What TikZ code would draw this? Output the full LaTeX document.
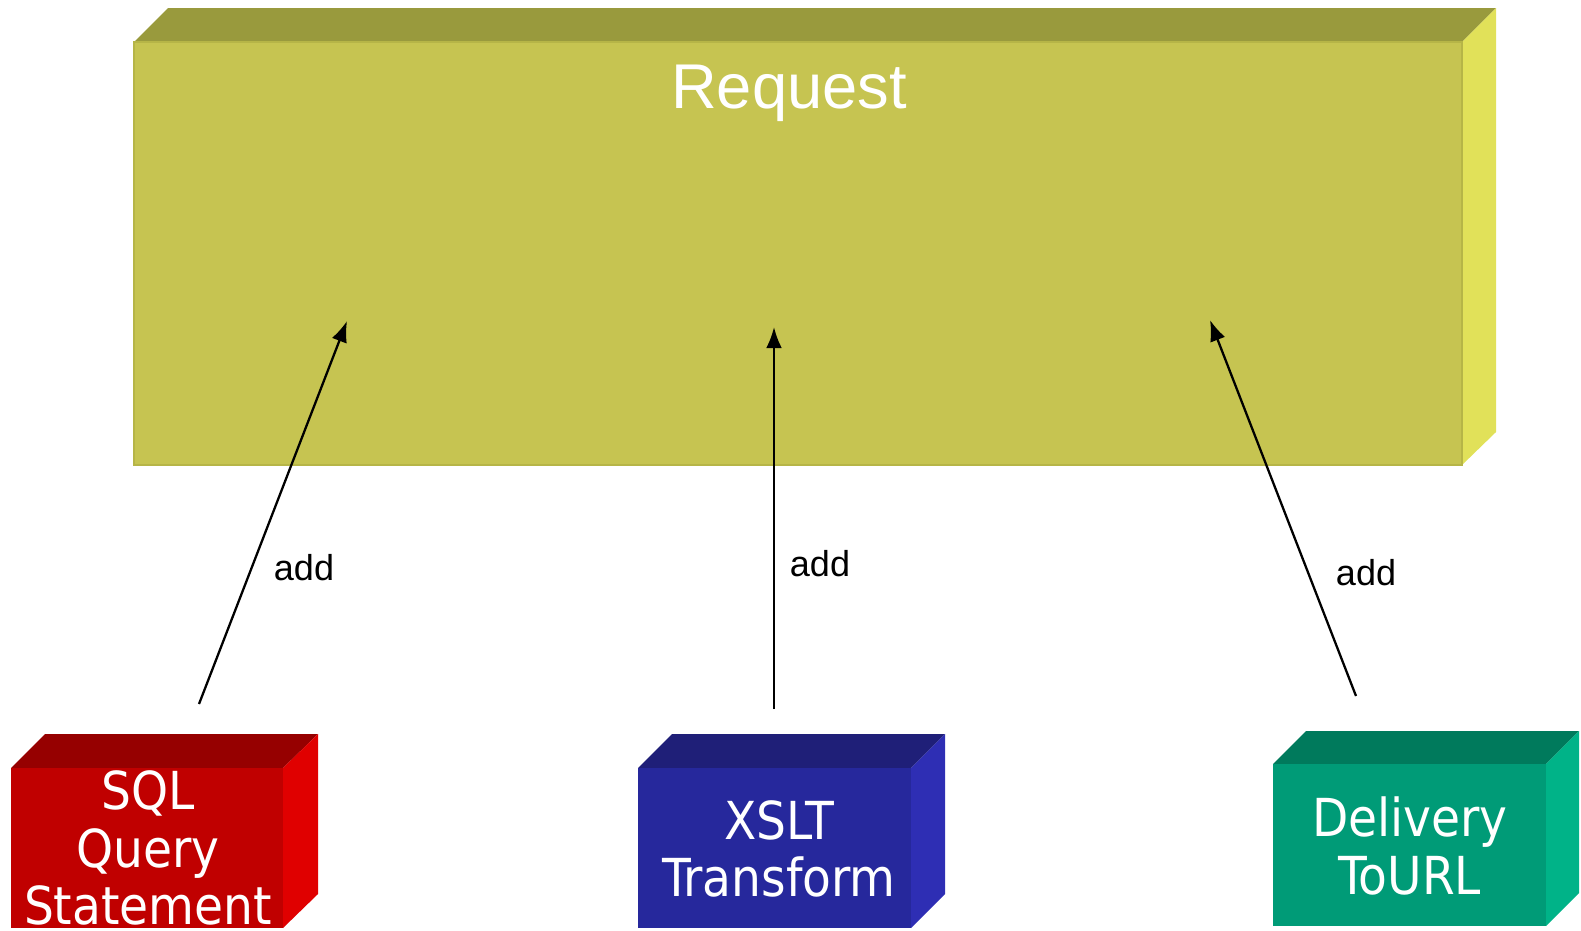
\documentclass[tikz,border=0pt]{standalone}
\usepackage{fontspec}
\setmainfont{Liberation Sans}
\newfontfamily\boxfont{DejaVu Sans Condensed}
\usetikzlibrary{arrows.meta}
\definecolor{reqfront}{HTML}{C6C451}
\definecolor{reqtop}{HTML}{999A3D}
\definecolor{reqside}{HTML}{E1E159}
\definecolor{reqedge}{HTML}{B6B547}
\definecolor{sqlfront}{HTML}{C00000}
\definecolor{sqltop}{HTML}{960000}
\definecolor{sqlside}{HTML}{E00000}
\definecolor{xslfront}{HTML}{26289C}
\definecolor{xsltop}{HTML}{1F1F78}
\definecolor{xslside}{HTML}{2E2EB4}
\definecolor{urlfront}{HTML}{009B77}
\definecolor{urltop}{HTML}{007A5C}
\definecolor{urlside}{HTML}{00B388}
\tikzset{
  boxlabel/.style={text=white, align=center, inner sep=0pt,
    font=\boxfont\fontsize{29.8}{32.8}\selectfont},
  addarrow/.style={-{Latex[length=12pt,width=9pt]}, line width=1.3pt},
  addlabel/.style={anchor=base, inner sep=0pt, font=\fontsize{20.5}{24}\selectfont}
}

\begin{document}
\begin{tikzpicture}[x=0.02cm, y=-0.02cm]
  \useasboundingbox (0,0) rectangle (1581,930);

  \fill[reqtop] (134,42) -- (168,8) -- (1496,8) -- (1462,42) -- cycle;
  \fill[reqside] (1462,42) -- (1496,8) -- (1496,432) -- (1462,465) -- cycle;
  \filldraw[fill=reqfront, draw=reqedge, line width=1pt] (134,42) rectangle (1462,465);
  \node[anchor=base, white, inner sep=0pt, font=\fontsize{36}{40}\selectfont] (request) at (789,108) {Request};

  \fill[sqltop] (11,768) -- (45,734) -- (318,734) -- (283,768) -- cycle;
  \fill[sqlside] (283,768) -- (318,734) -- (318,894) -- (283,928) -- cycle;
  \fill[sqlfront] (11,768) rectangle (283,928);
  \node[boxlabel] (sql) at (148,848) {SQL\\Query\\Statement};

  \fill[xsltop] (638,768) -- (672,734) -- (945,734) -- (911,768) -- cycle;
  \fill[xslside] (911,768) -- (945,734) -- (945,894) -- (911,928) -- cycle;
  \fill[xslfront] (638,768) rectangle (911,928);
  \node[boxlabel] (xslt) at (779,849) {XSLT\\Transform};

  \fill[urltop] (1273,764) -- (1306,731) -- (1579,731) -- (1546,764) -- cycle;
  \fill[urlside] (1546,764) -- (1579,731) -- (1579,893) -- (1546,926) -- cycle;
  \fill[urlfront] (1273,764) rectangle (1546,926);
  \node[boxlabel] (url) at (1410,846) {Delivery\\ToURL};

  \coordinate (sqlout) at (199,704);
  \coordinate (sqlin) at (347,321);
  \coordinate (xsltout) at (774,709);
  \coordinate (xsltin) at (774,327);
  \coordinate (urlout) at (1356,696);
  \coordinate (urlin) at (1210,320);
  \draw[addarrow] (sqlout) -- (sqlin);
  \draw[addarrow] (xsltout) -- (xsltin);
  \draw[addarrow] (urlout) -- (urlin);

  \node[addlabel] (addsql) at (304,580) {add};
  \node[addlabel] (addxslt) at (820,576) {add};
  \node[addlabel] (addurl) at (1366,585) {add};
\end{tikzpicture}
\end{document}
